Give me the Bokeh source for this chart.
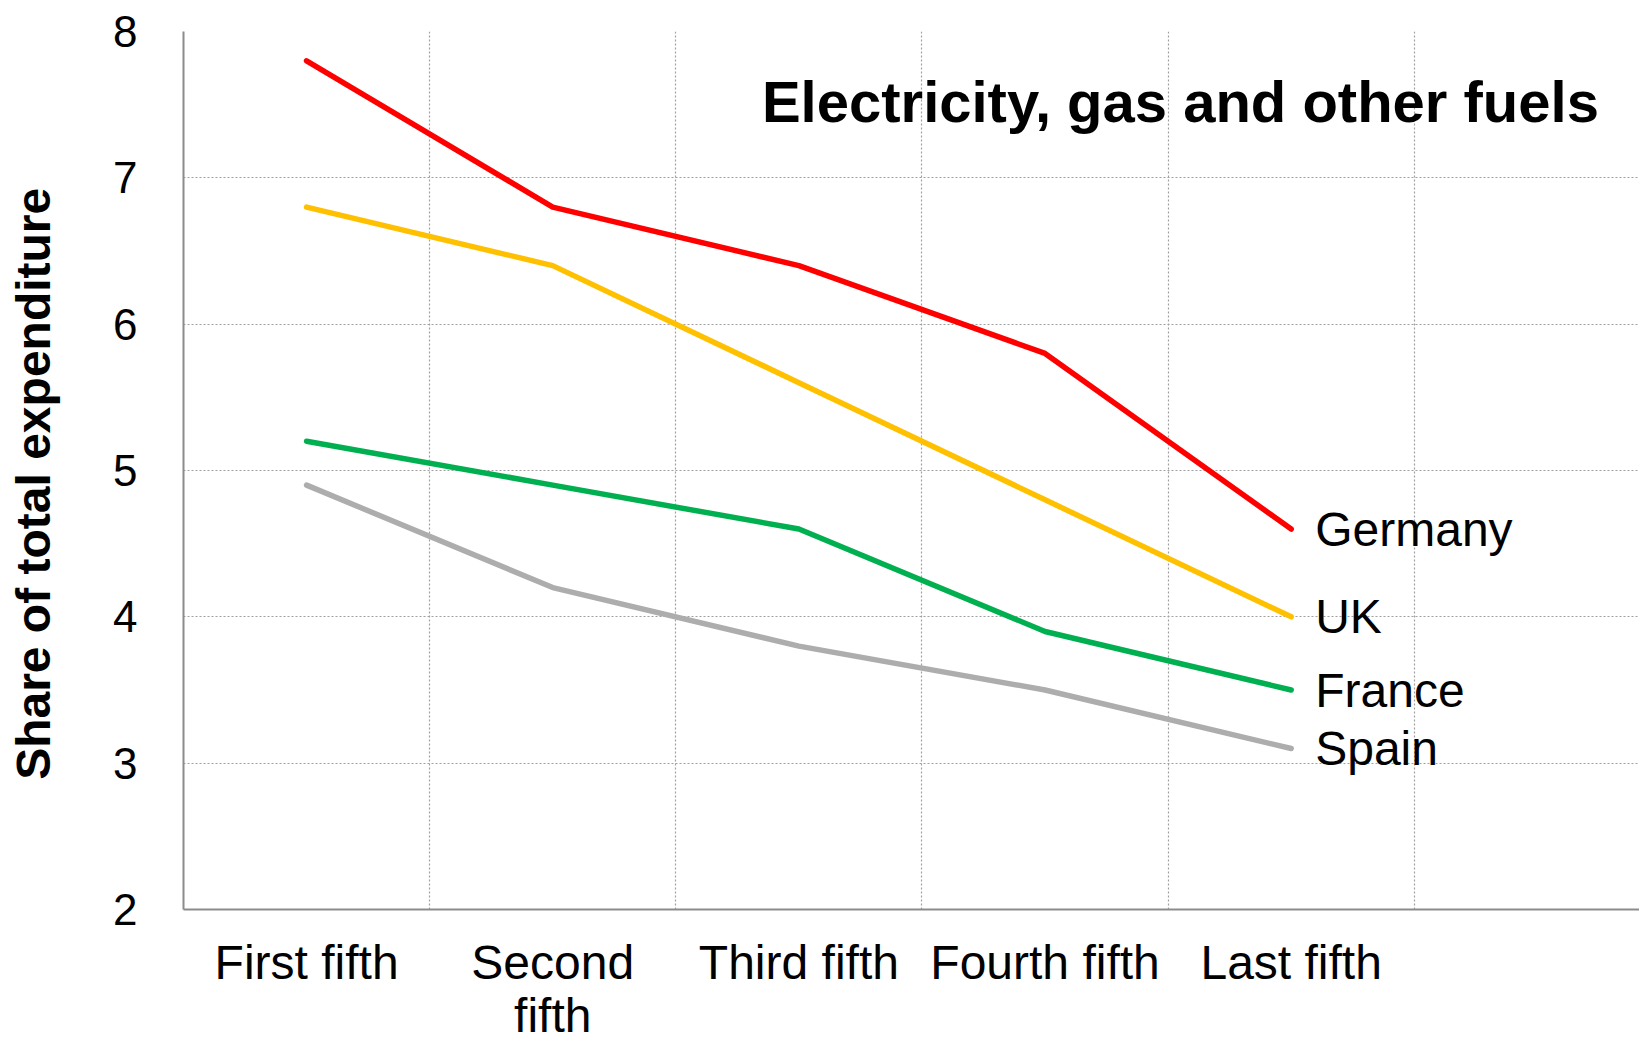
from bokeh.plotting import figure
from bokeh.models import Range1d, FixedTicker, Label, ColumnDataSource
from bokeh.core.properties import value
from bokeh.embed import file_html
from bokeh.resources import INLINE

categories = ["First fifth", "Second\nfifth", "Third fifth", "Fourth fifth", "Last fifth"]
countries = ["Germany", "UK", "France", "Spain"]
germany = [7.8, 6.8, 6.4, 5.8, 4.6]
uk = [6.8, 6.4, 5.6, 4.8, 4.0]
france = [5.2, 4.9, 4.6, 3.9, 3.5]
spain = [4.9, 4.2, 3.8, 3.5, 3.1]
colors = ["#FF0000", "#FFC000", "#00B050", "#ADADAD"]
y_ticks = [2, 3, 4, 5, 6, 7, 8]
title_text = "Electricity, gas and other fuels"
y_label = "Share of total expenditure"

FONT = "Liberation Sans"
xpos = [i + 0.5 for i in range(len(categories))]

p = figure(width=1639, frame_height=878, output_backend="svg", toolbar_location=None,
           x_range=Range1d(0, 5.915), y_range=Range1d(2, 8),
           min_border_left=183, min_border_right=0, min_border_top=31, min_border_bottom=10)
p.outline_line_color = None
p.background_fill_color = "white"
p.border_fill_color = "white"

# axes
p.xaxis.ticker = FixedTicker(ticks=xpos)
p.xaxis.major_label_overrides = {x: c for x, c in zip(xpos, categories)}
p.yaxis.ticker = FixedTicker(ticks=y_ticks)
for ax in (p.xaxis[0], p.yaxis[0]):
    ax.axis_line_color = "#8C8C8C"
    ax.axis_line_width = 2
    ax.major_tick_line_color = None
    ax.minor_tick_line_color = None
    ax.major_label_text_font = FONT
    ax.major_label_text_color = "black"
p.xaxis.major_label_text_font_size = "48px"
p.xaxis.major_label_standoff = 20
p.xaxis.major_label_text_line_height = 1.0
p.yaxis.major_label_text_font_size = "44px"
p.yaxis.major_label_standoff = 40

# y axis label (two no-break spaces nudge the visible text slightly below the frame centre)
p.yaxis.axis_label = y_label + "\u00a0\u00a0"
p.yaxis.axis_label_text_font = FONT
p.yaxis.axis_label_text_font_style = "bold"
p.yaxis.axis_label_text_font_size = "48px"
p.yaxis.axis_label_text_color = "black"
p.yaxis.axis_label_standoff = 50

# grids
p.xgrid.ticker = FixedTicker(ticks=[1, 2, 3, 4, 5])
p.ygrid.ticker = FixedTicker(ticks=y_ticks[1:])
for g in (p.xgrid[0], p.ygrid[0]):
    g.grid_line_color = "#A0A0A0"
    g.grid_line_width = 1.2
    g.grid_line_dash = "2 2"

series = [germany, uk, france, spain]
for name, vals, col in zip(countries, series, colors):
    p.line(x=xpos, y=vals, line_color=col, line_width=5.5, line_cap="round", line_join="round")

lab_src = ColumnDataSource(dict(x=[xpos[-1]] * len(countries), y=[s[-1] for s in series], t=countries))
p.text(x="x", y="y", text="t", source=lab_src, x_offset=24, text_align="left",
       text_baseline="middle", text_font=value(FONT), text_font_size="48px", text_color="black")

p.add_layout(Label(x=5.75, y=7.52, text=title_text, text_align="right", text_baseline="middle",
                   text_font=FONT, text_font_style="bold", text_font_size="58px", text_color="black"))

open("out.html", "w").write(file_html(p, INLINE))
